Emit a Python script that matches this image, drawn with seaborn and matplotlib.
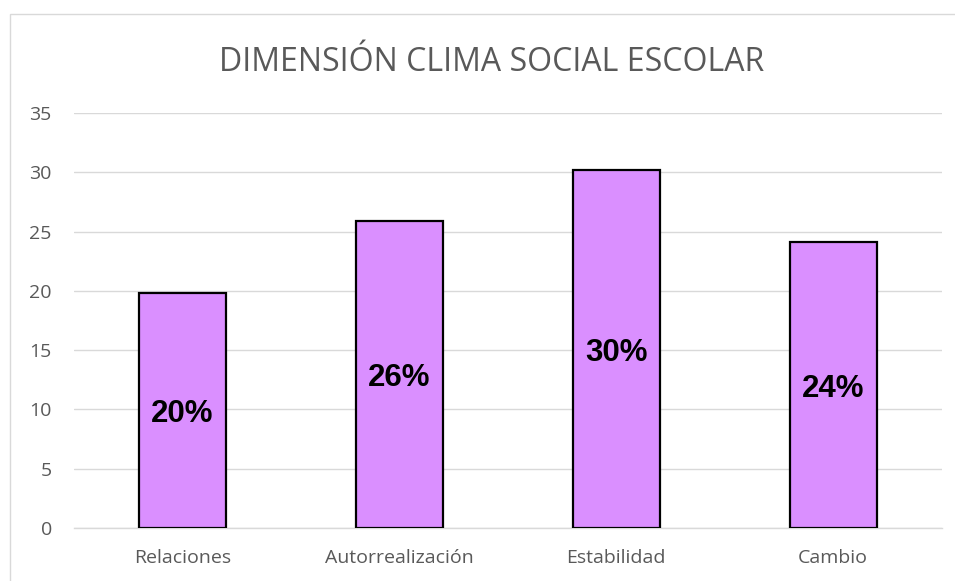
import pandas as pd
import seaborn as sns
import matplotlib.pyplot as plt
from matplotlib.patches import Rectangle

# datos del gráfico
categorias = ['Relaciones', 'Autorrealización', 'Estabilidad', 'Cambio']
valores = [19.8, 25.9, 30.2, 24.1]
etiquetas = ['20%', '26%', '30%', '24%']

df = pd.DataFrame({'Dimension': categorias, 'Valor': valores})

sns.set_theme(style="white")
plt.rcParams['font.family'] = ['Open Sans', 'DejaVu Sans']

fig = plt.figure(figsize=(9.55, 5.81), dpi=100)
ax = fig.add_axes([0.0775, 0.0912, 0.9085, 0.7143])

sns.barplot(data=df, x='Dimension', y='Valor', order=categorias,
            color='#DA8FFF', saturation=1, width=0.4,
            edgecolor='black', linewidth=1.6, ax=ax, zorder=3)

# etiquetas centradas en cada barra
for p, txt in zip(ax.patches, etiquetas):
    ax.text(p.get_x() + p.get_width() / 2, p.get_height() / 2 - 0.3, txt,
            ha='center', va='center', fontsize=22.5, fontweight='bold',
            family=['Liberation Sans', 'DejaVu Sans'], color='black', zorder=4)

ax.set_ylim(0, 35)
ax.set_xlim(-0.5, 3.5)
ax.set_yticks(range(0, 36, 5))
ax.yaxis.grid(True, color='#D9D9D9', linewidth=1.0, zorder=0)
ax.set_axisbelow(True)
for s in ['top', 'right', 'left']:
    ax.spines[s].set_visible(False)
ax.spines['bottom'].set_color('#D9D9D9')
ax.spines['bottom'].set_linewidth(1.0)
ax.tick_params(axis='both', length=0, labelsize=14, colors='#595959')
ax.tick_params(axis='y', pad=16)
ax.tick_params(axis='x', pad=15)
ax.set_xlabel('')
ax.set_ylabel('')

fig.text(0.515, 0.893, 'DIMENSIÓN CLIMA SOCIAL ESCOLAR', ha='center', va='center',
         fontsize=23, color='#595959')

# marco del área del gráfico (sin borde derecho visible)
fig.patches.append(Rectangle((10 / 955, -0.01), 1.0, 1 - 14 / 581 + 0.01,
                             transform=fig.transFigure, fill=False,
                             edgecolor='#D9D9D9', linewidth=1.0))

fig.savefig('out.png', dpi=100)
